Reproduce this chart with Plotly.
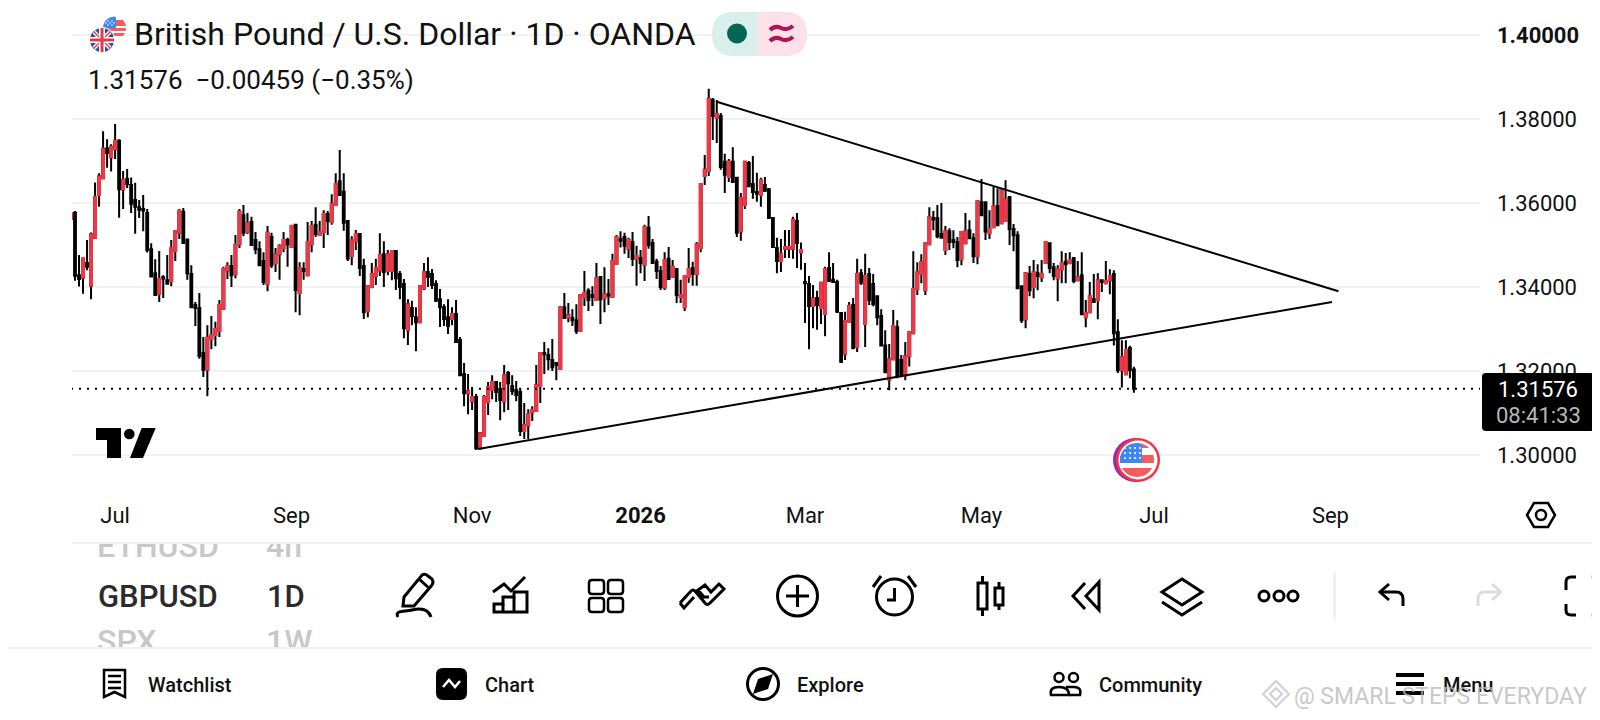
import math
import plotly.graph_objects as go

# daily GBPUSD bars, ten per row
opens = [
    1.3562,1.3577,1.3428,1.3422,1.3457,1.3403,1.3517,1.3619,1.3659,1.3730,
    1.3709,1.3728,1.3748,1.3633,1.3657,1.3643,1.3607,1.3590,1.3586,1.3576,
    1.3490,1.3433,1.3384,1.3424,1.3416,1.3414,1.3486,1.3529,1.3579,1.3513,
    1.3431,1.3357,1.3350,1.3243,1.3203,1.3276,1.3286,1.3295,1.3348,1.3440,
    1.3450,1.3431,1.3502,1.3571,1.3531,1.3555,1.3512,1.3490,1.3462,1.3407,
    1.3519,1.3457,1.3478,1.3493,1.3512,1.3495,1.3548,1.3386,1.3443,1.3428,
    1.3502,1.3548,1.3524,1.3531,1.3574,1.3555,1.3595,1.3652,1.3627,1.3557,
    1.3474,1.3509,1.3526,1.3450,1.3343,1.3400,1.3426,1.3440,1.3478,1.3438,
    1.3438,1.3486,1.3431,1.3407,1.3297,1.3350,1.3328,1.3316,1.3397,1.3436,
    1.3431,1.3407,1.3371,1.3352,1.3328,1.3324,1.3336,1.3274,1.3193,1.3147,
    1.3128,1.3138,1.3016,1.3045,1.3126,1.3155,1.3174,1.3157,1.3128,1.3195,
    1.3164,1.3155,1.3150,1.3057,1.3071,1.3102,1.3105,1.3164,1.3243,1.3238,
    1.3226,1.3219,1.3205,1.3352,1.3328,1.3326,1.3321,1.3295,1.3376,1.3391,
    1.3381,1.3369,1.3424,1.3374,1.3383,1.3376,1.3455,1.3514,1.3519,1.3491,
    1.3507,1.3467,1.3469,1.3453,1.3541,1.3505,1.3460,1.3438,1.3398,1.3467,
    1.3424,1.3443,1.3376,1.3352,1.3424,1.3445,1.3431,1.3493,1.3664,1.3676,
    1.3845,1.3803,1.3807,1.3698,1.3662,1.3698,1.3660,1.3533,1.3595,1.3695,
    1.3645,1.3626,1.3619,1.3643,1.3633,1.3564,1.3493,1.3462,1.3491,1.3491,
    1.3491,1.3557,1.3483,1.3412,1.3407,1.3355,1.3374,1.3350,1.3336,1.3445,
    1.3417,1.3412,1.3338,1.3241,1.3317,1.3357,1.3257,1.3433,1.3312,1.3431,
    1.3407,1.3378,1.3331,1.3261,1.3180,1.3228,1.3304,1.3226,1.3190,1.3235,
    1.3290,1.3395,1.3431,1.3392,1.3502,1.3564,1.3564,1.3526,1.3488,1.3533,
    1.3512,1.3507,1.3466,1.3504,1.3535,1.3516,1.3473,1.3602,1.3602,1.3528,
    1.3542,1.3592,1.3552,1.3557,1.3614,1.3538,1.3523,1.3402,1.3323,1.3431,
    1.3400,1.3433,1.3423,1.3457,1.3504,1.3447,1.3421,1.3442,1.3460,1.3457,
    1.3469,1.3416,1.3428,1.3328,1.3340,1.3371,1.3369,1.3416,1.3409,1.3416,
    1.3431,1.3292,1.3202,1.3192,1.3255,1.32035]
highs = [
    1.3575,1.3581,1.3476,1.3468,1.3512,1.3530,1.3649,1.3671,1.3771,1.3752,
    1.3740,1.3788,1.3752,1.3676,1.3681,1.3661,1.3648,1.3607,1.3619,1.3586,
    1.3504,1.3466,1.3486,1.3428,1.3476,1.3512,1.3533,1.3586,1.3588,1.3514,
    1.3452,1.3364,1.3386,1.3281,1.3309,1.3331,1.3317,1.3369,1.3448,1.3459,
    1.3476,1.3524,1.3586,1.3595,1.3576,1.3567,1.3531,1.3509,1.3483,1.3545,
    1.3529,1.3493,1.3502,1.3531,1.3517,1.3548,1.3550,1.3459,1.3459,1.3555,
    1.3557,1.3590,1.3557,1.3583,1.3581,1.3621,1.3671,1.3726,1.3671,1.3559,
    1.3521,1.3536,1.3528,1.3467,1.3402,1.3457,1.3467,1.3528,1.3509,1.3488,
    1.3488,1.3488,1.3438,1.3419,1.3371,1.3367,1.3352,1.3402,1.3457,1.3471,
    1.3443,1.3416,1.3395,1.3359,1.3371,1.3352,1.3369,1.3281,1.3219,1.3193,
    1.3162,1.3145,1.3055,1.3143,1.3174,1.3190,1.3174,1.3174,1.3214,1.3200,
    1.3190,1.3176,1.3159,1.3124,1.3109,1.3116,1.3214,1.3245,1.3269,1.3254,
    1.3276,1.3219,1.3352,1.3386,1.3362,1.3347,1.3359,1.3381,1.3438,1.3397,
    1.3402,1.3457,1.3426,1.3447,1.3419,1.3479,1.3524,1.3533,1.3529,1.3517,
    1.3531,1.3498,1.3488,1.3548,1.3569,1.3514,1.3467,1.3450,1.3483,1.3495,
    1.3464,1.3445,1.3417,1.3426,1.3493,1.3460,1.3507,1.3645,1.3714,1.3872,
    1.3850,1.3845,1.3814,1.3717,1.3705,1.3733,1.3660,1.3624,1.3700,1.3700,
    1.3712,1.3672,1.3660,1.3662,1.3636,1.3564,1.3517,1.3514,1.3536,1.3536,
    1.3567,1.3576,1.3506,1.3457,1.3426,1.3405,1.3391,1.3412,1.3448,1.3483,
    1.3457,1.3417,1.3338,1.3341,1.3364,1.3374,1.3467,1.3443,1.3479,1.3445,
    1.3431,1.3378,1.3347,1.3297,1.3264,1.3345,1.3321,1.3238,1.3269,1.3292,
    1.3485,1.3459,1.3478,1.3504,1.3590,1.3581,1.3595,1.3600,1.3545,1.3540,
    1.3535,1.3519,1.3533,1.3576,1.3559,1.3528,1.3604,1.3657,1.3604,1.3583,
    1.3640,1.3635,1.3633,1.3654,1.3614,1.3550,1.3533,1.3404,1.3433,1.3450,
    1.3464,1.3454,1.3464,1.3509,1.3504,1.3457,1.3452,1.3485,1.3481,1.3483,
    1.3471,1.3462,1.3483,1.3369,1.3412,1.3431,1.3433,1.3416,1.3462,1.3442,
    1.3440,1.3323,1.3273,1.3273,1.3260,1.3210]
lows = [
    1.3562,1.3415,1.3401,1.3384,1.3440,1.3371,1.3517,1.3591,1.3659,1.3684,
    1.3675,1.3705,1.3565,1.3586,1.3636,1.3576,1.3527,1.3564,1.3533,1.3482,
    1.3425,1.3381,1.3364,1.3374,1.3408,1.3402,1.3462,1.3514,1.3503,1.3417,
    1.3351,1.3307,1.3229,1.3186,1.3140,1.3252,1.3259,1.3281,1.3348,1.3419,
    1.3400,1.3421,1.3493,1.3521,1.3526,1.3500,1.3478,1.3450,1.3405,1.3390,
    1.3445,1.3436,1.3417,1.3483,1.3448,1.3495,1.3340,1.3333,1.3417,1.3428,
    1.3483,1.3519,1.3524,1.3493,1.3524,1.3548,1.3595,1.3619,1.3534,1.3462,
    1.3452,1.3488,1.3426,1.3324,1.3328,1.3397,1.3405,1.3426,1.3400,1.3428,
    1.3416,1.3393,1.3371,1.3278,1.3262,1.3309,1.3247,1.3316,1.3393,1.3400,
    1.3395,1.3364,1.3305,1.3307,1.3288,1.3309,1.3269,1.3190,1.3116,1.3097,
    1.3107,1.3012,1.3016,1.3045,1.3095,1.3133,1.3126,1.3083,1.3102,1.3107,
    1.3143,1.3128,1.3045,1.3038,1.3038,1.3081,1.3105,1.3124,1.3193,1.3202,
    1.3200,1.3178,1.3205,1.3326,1.3316,1.3307,1.3288,1.3295,1.3355,1.3343,
    1.3355,1.3369,1.3312,1.3340,1.3357,1.3376,1.3455,1.3494,1.3479,1.3469,
    1.3450,1.3403,1.3433,1.3414,1.3491,1.3455,1.3419,1.3393,1.3393,1.3419,
    1.3424,1.3362,1.3362,1.3343,1.3410,1.3403,1.3403,1.3483,1.3643,1.3664,
    1.3750,1.3743,1.3679,1.3624,1.3650,1.3650,1.3519,1.3510,1.3586,1.3638,
    1.3610,1.3603,1.3591,1.3626,1.3564,1.3495,1.3433,1.3436,1.3469,1.3469,
    1.3467,1.3445,1.3441,1.3314,1.3252,1.3302,1.3298,1.3312,1.3283,1.3412,
    1.3412,1.3338,1.3219,1.3226,1.3317,1.3252,1.3245,1.3405,1.3257,1.3357,
    1.3354,1.3309,1.3261,1.3197,1.3154,1.3228,1.3183,1.3185,1.3178,1.3211,
    1.3290,1.3381,1.3409,1.3381,1.3502,1.3535,1.3516,1.3516,1.3476,1.3488,
    1.3492,1.3447,1.3452,1.3504,1.3516,1.3457,1.3454,1.3571,1.3512,1.3514,
    1.3540,1.3547,1.3550,1.3557,1.3500,1.3485,1.3395,1.3314,1.3302,1.3378,
    1.3373,1.3392,1.3412,1.3457,1.3433,1.3416,1.3366,1.3409,1.3409,1.3454,
    1.3409,1.3414,1.3333,1.3304,1.3340,1.3364,1.3323,1.3388,1.3407,1.3383,
    1.3261,1.3195,1.3161,1.3192,1.3183,1.3148]
closes = [
    1.3575,1.3427,1.3419,1.3468,1.3448,1.3525,1.3614,1.3663,1.3729,1.3719,
    1.3734,1.3748,1.3633,1.3655,1.3645,1.3598,1.3591,1.3584,1.3582,1.3488,
    1.3425,1.3381,1.3419,1.3420,1.3408,1.3493,1.3533,1.3581,1.3505,1.3433,
    1.3352,1.3350,1.3236,1.3203,1.3279,1.3286,1.3300,1.3357,1.3443,1.3450,
    1.3428,1.3500,1.3579,1.3529,1.3552,1.3500,1.3490,1.3452,1.3412,1.3529,
    1.3452,1.3478,1.3498,1.3512,1.3502,1.3545,1.3393,1.3445,1.3438,1.3507,
    1.3545,1.3526,1.3531,1.3574,1.3557,1.3598,1.3645,1.3619,1.3553,1.3468,
    1.3512,1.3526,1.3445,1.3340,1.3402,1.3431,1.3445,1.3476,1.3436,1.3478,
    1.3486,1.3421,1.3400,1.3302,1.3359,1.3331,1.3316,1.3402,1.3436,1.3424,
    1.3405,1.3367,1.3352,1.3324,1.3307,1.3336,1.3269,1.3190,1.3147,1.3152,
    1.3138,1.3016,1.3052,1.3138,1.3162,1.3174,1.3150,1.3131,1.3190,1.3171,
    1.3152,1.3143,1.3057,1.3071,1.3097,1.3107,1.3166,1.3243,1.3240,1.3228,
    1.3209,1.3214,1.3352,1.3326,1.3333,1.3321,1.3295,1.3381,1.3386,1.3369,
    1.3376,1.3421,1.3371,1.3383,1.3379,1.3462,1.3519,1.3510,1.3498,1.3512,
    1.3467,1.3474,1.3457,1.3543,1.3500,1.3457,1.3438,1.3400,1.3464,1.3419,
    1.3448,1.3381,1.3381,1.3426,1.3443,1.3431,1.3502,1.3645,1.3679,1.3848,
    1.3807,1.3812,1.3686,1.3667,1.3698,1.3650,1.3529,1.3612,1.3698,1.3640,
    1.3626,1.3622,1.3655,1.3629,1.3564,1.3495,1.3462,1.3479,1.3495,1.3495,
    1.3560,1.3505,1.3488,1.3409,1.3355,1.3372,1.3357,1.3410,1.3443,1.3414,
    1.3412,1.3341,1.3222,1.3319,1.3355,1.3255,1.3431,1.3410,1.3426,1.3369,
    1.3359,1.3328,1.3261,1.3197,1.3228,1.3307,1.3190,1.3192,1.3235,1.3292,
    1.3395,1.3435,1.3459,1.3504,1.3566,1.3561,1.3521,1.3517,1.3533,1.3507,
    1.3507,1.3464,1.3531,1.3533,1.3516,1.3473,1.3604,1.3571,1.3532,1.3538,
    1.3592,1.3547,1.3633,1.3609,1.3538,1.3523,1.3397,1.3321,1.3433,1.3392,
    1.3435,1.3426,1.3431,1.3507,1.3445,1.3426,1.3442,1.3457,1.3454,1.3464,
    1.3414,1.3423,1.3335,1.3338,1.3378,1.3364,1.3416,1.3412,1.3414,1.3426,
    1.3290,1.3202,1.3233,1.3250,1.3202,1.31576]
assert len(opens) == len(highs) == len(lows) == len(closes)

bars = list(range(len(opens)))

price_ticks = [1.30, 1.32, 1.34, 1.36, 1.38, 1.40]
price_labels = ["1.30000", "1.32000", "1.34000", "1.36000", "1.38000", "<b>1.40000</b>"]
month_bars = [11, 55, 100, 142, 183, 227, 270, 314]
month_labels = ["Jul", "Sep", "Nov", "<b>2026</b>", "Mar", "May", "Jul", "Sep"]

# the two drawn trend lines, bar number and price at each end
upper_trend_bars = [161, 316]
upper_trend_prices = [1.3841, 1.3390]
lower_trend_bars = [101.5, 314.4]
lower_trend_prices = [1.30143, 1.33643]

last_price = 1.31576

W, H = 1600, 720
BODY = 8  # the page's body margin pushes the figure in by this much
BLACK = "#000000"
RED = "#f23645"
FONT = "Roboto"
TEXT = "#111111"

up = [i for i in bars if closes[i] > opens[i]]

fig = go.Figure()

# all wicks and down bodies in black
fig.add_trace(go.Candlestick(
    x=bars, open=opens, high=highs, low=lows, close=closes,
    increasing=dict(line=dict(color=BLACK, width=2), fillcolor=BLACK),
    decreasing=dict(line=dict(color=BLACK, width=2), fillcolor=BLACK),
    whiskerwidth=0, showlegend=False, hoverinfo="skip"))
# up bodies painted red on top, wicks stay black
fig.add_trace(go.Candlestick(
    x=up,
    open=[opens[i] for i in up],
    high=[closes[i] for i in up],
    low=[opens[i] for i in up],
    close=[closes[i] for i in up],
    increasing=dict(line=dict(color=RED, width=2), fillcolor=RED),
    decreasing=dict(line=dict(color=RED, width=2), fillcolor=RED),
    whiskerwidth=0, showlegend=False, hoverinfo="skip"))

fig.add_trace(go.Scatter(x=upper_trend_bars, y=upper_trend_prices, mode="lines",
                         line=dict(color=BLACK, width=2), showlegend=False, hoverinfo="skip"))
fig.add_trace(go.Scatter(x=lower_trend_bars, y=lower_trend_prices, mode="lines",
                         line=dict(color=BLACK, width=2), showlegend=False, hoverinfo="skip"))
fig.add_trace(go.Scatter(x=[0, 352], y=[last_price, last_price], mode="lines",
                         line=dict(color=BLACK, width=2, dash="2px,6px"),
                         showlegend=False, hoverinfo="skip"))

# full page pixel axes for the app chrome
fig.add_trace(go.Scatter(x=[0], y=[0], mode="none", xaxis="x2", yaxis="y2",
                         showlegend=False, hoverinfo="skip"))

# symbol scroller, cut off by its band like the app does
fig.add_trace(go.Scatter(
    x=[97, 266, 97, 266], y=[549, 549, 644, 644], mode="text",
    text=["ETHUSD", "4h", "SPX", "1W"],
    textposition="middle right",
    textfont=dict(family=FONT, size=32, color="#c8c8c8", weight=500),
    cliponaxis=True, xaxis="x3", yaxis="y3", showlegend=False, hoverinfo="skip"))

shapes = []
annotations = []


def ui_text(x, y, text, size, color=TEXT, anchor="left", weight=400):
    # annotations carry a small inner pad, take it back on left aligned text
    annotations.append(dict(
        x=x - 3 if anchor == "left" else x, y=y, xref="x2", yref="y2", text=text,
        showarrow=False, xanchor=anchor, yanchor="middle", align="left",
        font=dict(family=FONT, size=size, color=color, weight=weight)))


def ui_path(path, color=BLACK, width=3, fill=None):
    shapes.append(dict(type="path", path=path, xref="x2", yref="y2", layer="above",
                       line=dict(color=color, width=width),
                       fillcolor=fill if fill else "rgba(0,0,0,0)"))


def ui_fill(path, color):
    shapes.append(dict(type="path", path=path, xref="x2", yref="y2", layer="above",
                       line=dict(width=0), fillcolor=color))


def ui_circle(cx, cy, r, color=BLACK, width=3, fill=None):
    shapes.append(dict(type="circle", x0=cx - r, x1=cx + r, y0=cy - r, y1=cy + r,
                       xref="x2", yref="y2", layer="above",
                       line=dict(color=color, width=width),
                       fillcolor=fill if fill else "rgba(0,0,0,0)"))


def ui_rule(x0, y0, x1, y1, color="#f0f0f0", width=2):
    shapes.append(dict(type="line", x0=x0, x1=x1, y0=y0, y1=y1, xref="x2", yref="y2",
                       layer="above", line=dict(color=color, width=width)))


def rrect(x0, y0, x1, y1, r):
    return (f"M {x0+r} {y0} L {x1-r} {y0} Q {x1} {y0} {x1} {y0+r} L {x1} {y1-r} "
            f"Q {x1} {y1} {x1-r} {y1} L {x0+r} {y1} Q {x0} {y1} {x0} {y1-r} "
            f"L {x0} {y0+r} Q {x0} {y0} {x0+r} {y0} Z")


def disc_part(cx, cy, r, x0, x1, y0, y1):
    # a box cut to a round flag
    y0, y1 = max(y0, cy - r), min(y1, cy + r)
    steps = 12
    left, right = [], []
    for s in range(steps + 1):
        y = y0 + (y1 - y0) * s / steps
        half = math.sqrt(max(r * r - (y - cy) ** 2, 0))
        left.append((max(x0, cx - half), y))
        right.append((min(x1, cx + half), y))
    pts = right + left[::-1]
    return "M " + " L ".join(f"{a:.1f} {b:.1f}" for a, b in pts) + " Z"


# header
ui_circle(114.5, 28, 11.5, color="#ffffff", width=0, fill="#ffffff")
for y0, y1 in [(28, 31), (33, 36)]:
    ui_fill(disc_part(114.5, 28, 11.5, 103, 126, y0, y1), "#f25c5c")
ui_fill(disc_part(114.5, 28, 11.5, 114, 126, 20, 26), "#f25c5c")
ui_fill(disc_part(114.5, 28, 11.5, 103, 116, 16, 28), "#3b88f5")
for x, y in [(108, 21), (112, 21), (108, 25), (112, 25), (106, 23), (110, 23), (114, 23)]:
    ui_circle(x, y, 0.8, color="#ffffff", width=0, fill="#ffffff")
ui_circle(102, 40, 13, color="#ffffff", width=0, fill="#ffffff")
ui_circle(102, 40, 12, color="#2b4c9b", width=0, fill="#2b4c9b")
ui_rule(94, 32, 110, 48, "#ffffff", 4)
ui_rule(94, 48, 110, 32, "#ffffff", 4)
ui_rule(94, 32, 110, 48, "#e8364a", 1.5)
ui_rule(94, 48, 110, 32, "#e8364a", 1.5)
ui_rule(90, 40, 114, 40, "#ffffff", 6)
ui_rule(102, 28, 102, 52, "#ffffff", 6)
ui_rule(90, 40, 114, 40, "#e8364a", 3)
ui_rule(102, 28, 102, 52, "#e8364a", 3)

ui_text(135, 34, "British Pound / U.S. Dollar · 1D · OANDA", 32)
ui_text(89, 80, "1.31576  −0.00459 (−0.35%)", 26)

ui_fill("M 758.5 12 L 734 12 Q 712 12 712 34 Q 712 56 734 56 L 758.5 56 Z", "#d8efeb")
ui_fill("M 758.5 12 L 785 12 Q 807 12 807 34 Q 807 56 785 56 L 758.5 56 Z", "#fde0e9")
ui_circle(737, 33.5, 10, color="#056656", width=0, fill="#056656")
for y in [28, 39]:
    ui_path(f"M 770 {y+2} Q 775 {y-3} 781 {y} Q 787 {y+3} 793 {y-2}", color="#ad1457", width=4)

# price label on the axis
ui_fill(rrect(1482, 373, 1594, 431, 4), BLACK)
ui_text(1538, 389, "1.31576", 22, color="#ffffff", anchor="center")
ui_text(1538, 415, "08:41:33", 22, color="#b8b8b8", anchor="center")

# tradingview logo
ui_fill("M 96 428 L 121 428 L 121 458 L 107 458 L 107 440 L 96 440 Z", BLACK)
ui_circle(129.3, 434, 5.3, color=BLACK, width=0, fill=BLACK)
ui_fill("M 141.7 428 L 155.7 428 L 143 458 L 130 458 Z", BLACK)

# news badge
ui_circle(1135, 460, 22, color="#9c27b0", width=0, fill="#9c27b0")
ui_circle(1138, 460, 22, color=RED, width=0, fill=RED)
ui_circle(1138, 460, 19.5, color="#ffffff", width=0, fill="#ffffff")
for y0, y1 in [(443, 448), (455, 463), (468, 477)]:
    ui_fill(disc_part(1137, 460, 17, 1118, 1156, y0, y1), "#f25c5c")
ui_fill(disc_part(1137, 460, 17, 1118, 1142, 443, 463), "#3b88f5")
for x in [1125, 1130, 1135, 1140]:
    for y in [448, 453, 458]:
        ui_circle(x, y, 1.1, color="#ffffff", width=0, fill="#ffffff")

# settings hexagon beside the time axis
ui_path("M 1527 515 L 1534 503 L 1548 503 L 1555 515 L 1548 527 L 1534 527 Z", width=2.5)
ui_circle(1541, 515, 5, width=2.5)

# separators
ui_rule(72, 543, 1600, 543)
ui_rule(0, 648, 1600, 648)
ui_rule(1334.5, 572, 1334.5, 619, "#ececec", 2)

# selected symbol
ui_text(99, 596, "GBPUSD", 31, color="#2b2b2b", weight=500)
ui_text(268, 596, "1D", 31, color="#2b2b2b", weight=500)

# toolbar
ui_path("M 404 597 L 422 575 Q 425 573 428 576 L 432 579 Q 434 582 432 585 L 414 606 L 403 606 Z")
ui_rule(419, 579, 429, 588, BLACK, 3)
ui_path("M 398 617 C 394 610 405 612 412 610 C 420 608 428 608 431 617")

ui_path("M 493 592 L 504 584 L 511 591 L 525 577")
ui_path("M 494 612 L 494 604 L 503 604 L 503 597 L 514 597 L 514 592 L 527 592 L 527 612 Z")
ui_rule(503, 604, 503, 612, BLACK, 3)
ui_rule(514, 597, 514, 612, BLACK, 3)

for x0 in [589, 608]:
    for y0 in [580, 598]:
        ui_path(rrect(x0, y0, x0 + 15, y0 + 14, 3), width=2.5)

ui_path("M 680 603 L 691 591 Q 693 589 695 591 L 705 603 Q 707 606 710 603 L 724 589 "
        "L 719 584 L 711 592 L 705 585 L 698 590 L 704 597 L 709 597")
ui_path("M 680 603 L 684 608 L 694 597")

ui_circle(797.5, 596, 20)
ui_rule(786, 596, 809, 596, BLACK, 3)
ui_rule(797.5, 585, 797.5, 607, BLACK, 3)

ui_circle(894.5, 597, 18)
ui_path("M 894.5 588 L 894.5 600 L 887 600")
ui_rule(873, 587, 881, 576, BLACK, 3)
ui_rule(916, 587, 908, 576, BLACK, 3)

ui_path("M 978 583 L 987 583 L 987 609 L 978 609 Z")
ui_rule(982.5, 576, 982.5, 583, BLACK, 3)
ui_rule(982.5, 609, 982.5, 616, BLACK, 3)
ui_path("M 995 588 L 1003 588 L 1003 605 L 995 605 Z")
ui_rule(999, 582, 999, 588, BLACK, 3)
ui_rule(999, 605, 999, 610, BLACK, 3)

ui_path("M 1085 583 L 1073 596 L 1085 609")
ui_path("M 1099 582 L 1086 596 L 1099 610 Z")

ui_path("M 1182 579 L 1202 592 L 1182 605 L 1162 592 Z")
ui_path("M 1162 602 L 1182 615 L 1202 602")

for x in [1264, 1279, 1293]:
    ui_circle(x, 596, 5)

ui_path("M 1403 606 L 1403 599 Q 1403 592 1396 592 L 1381 592")
ui_path("M 1389 584 L 1380 592 L 1389 600")
ui_path("M 1478 606 L 1478 599 Q 1478 592 1485 592 L 1500 592", color="#dddddd")
ui_path("M 1492 584 L 1501 592 L 1492 600", color="#dddddd")

ui_path("M 1576 577 L 1571 577 Q 1566 577 1566 582 L 1566 590")
ui_path("M 1566 604 L 1566 610 Q 1566 615 1571 615 L 1576 615")
ui_rule(1591, 577, 1600, 577, "#cccccc", 3)
ui_rule(1591, 615, 1600, 615, "#cccccc", 3)

# bottom navigation
ui_path("M 104 670 L 125 670 L 125 697 L 114.5 692 L 104 697 Z", width=2.5)
for y in [676, 682, 688]:
    ui_rule(108, y, 121, y, BLACK, 2.5)
ui_text(149, 685, "Watchlist", 20, weight=500)

ui_fill(rrect(436, 668, 467, 700, 7), BLACK)
ui_path("M 443 687 L 449 680 L 455 687 L 460 681", color="#ffffff", width=2.5)
ui_text(486, 685, "Chart", 20, weight=500)

ui_circle(763, 684, 15.5)
ui_fill("M 773 674 L 768 689 L 753 694 L 758 679 Z", BLACK)
ui_text(798, 685, "Explore", 20, weight=500)

ui_circle(1059, 677.5, 4.5, width=2.5)
ui_circle(1073.5, 677.5, 4.5, width=2.5)
ui_path("M 1051 695 Q 1049 687 1059 687 Q 1069 687 1069 695 Z", width=2.5)
ui_path("M 1066 687 L 1074 687 Q 1082 687 1080 695 L 1069 695", width=2.5)
ui_text(1100, 685, "Community", 20, weight=500)

for y in [675, 684, 693]:
    ui_rule(1396, y, 1424, y, BLACK, 4)
ui_text(1444, 685, "Menu", 20, weight=500)

# watermark over the nav bar
ui_path("M 1276 681 L 1289 694 L 1276 707 L 1263 694 Z", color="rgba(190,190,190,0.7)", width=2)
ui_path("M 1276 688 L 1282 694 L 1276 700 L 1270 694 Z", color="rgba(190,190,190,0.7)", width=2)
ui_text(1295, 696, "@ SMARL STEPS EVERYDAY", 23, color="rgba(185,185,185,0.8)")

# pixel rows of the plot band, turned into axis ranges below
plot_left, plot_right = 72, 1480
plot_top, plot_bottom = 20, 500
px_per_unit = 4200
bar_px = 4.011

fig.update_layout(
    width=W, height=H, autosize=False,
    margin=dict(l=0, r=0, t=0, b=0),
    paper_bgcolor="#ffffff", plot_bgcolor="rgba(0,0,0,0)",
    boxmode="overlay", boxgap=0.35, showlegend=False,
    font=dict(family=FONT, color=TEXT),
    shapes=shapes, annotations=annotations,
    xaxis=dict(
        domain=[(plot_left - BODY) / W, (plot_right - BODY) / W],
        range=[1 + (plot_left - 75) / bar_px, 1 + (plot_right - 75) / bar_px],
        tickmode="array", tickvals=month_bars, ticktext=month_labels,
        tickfont=dict(family=FONT, size=22, color=TEXT), ticks="",
        showgrid=False, zeroline=False, showline=False, rangeslider=dict(visible=False),
        anchor="y", fixedrange=True),
    yaxis=dict(
        domain=[1 - (plot_bottom - BODY) / H, 1 - (plot_top - BODY) / H],
        range=[1.38 - (plot_bottom - 119) / px_per_unit, 1.38 + (119 - plot_top) / px_per_unit],
        side="right", tickmode="array", tickvals=price_ticks, ticktext=price_labels,
        tickfont=dict(family=FONT, size=22, color=TEXT), ticks="", ticklabelstandoff=16,
        showgrid=True, gridcolor="#f2f2f2", gridwidth=2,
        zeroline=False, showline=False, anchor="x", fixedrange=True),
    xaxis2=dict(domain=[0, 1], range=[BODY, W + BODY], visible=False, anchor="y2", fixedrange=True),
    yaxis2=dict(domain=[0, 1], range=[H + BODY, BODY], visible=False, anchor="x2", fixedrange=True),
    xaxis3=dict(domain=[0, 1], range=[BODY, W + BODY], visible=False, anchor="y3", fixedrange=True),
    yaxis3=dict(domain=[1 - (647 - BODY) / H, 1 - (544 - BODY) / H], range=[647, 544], visible=False,
                anchor="x3", fixedrange=True),
)

fig.write_html("out.html")
